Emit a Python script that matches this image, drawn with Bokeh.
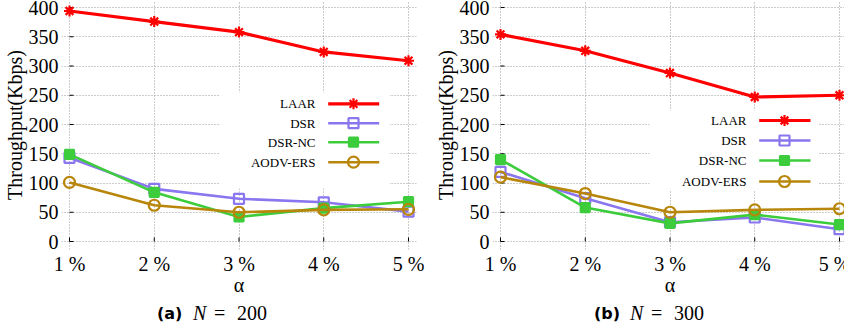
from bokeh.plotting import figure
from bokeh.layouts import row, column
from bokeh.models import Range1d, FixedTicker, Div
from bokeh.embed import file_html
from bokeh.resources import INLINE
from bokeh.core.properties import value

# ---- data -------------------------------------------------------------
alpha_pct = [1, 2, 3, 4, 5]
x_tick_labels = ["1 %", "2 %", "3 %", "4 %", "5 %"]
y_ticks = [0, 50, 100, 150, 200, 250, 300, 350, 400]

protocols = ["LAAR", "DSR", "DSR-NC", "AODV-ERS"]

# N = 200 nodes
laar_200 = [394, 376, 358, 324, 309]
dsr_200 = [143, 90, 73, 67, 51]
dsrnc_200 = [149, 84, 42, 57, 68]
aodv_200 = [101, 62, 50, 54, 55]

# N = 300 nodes
laar_300 = [354, 326, 288, 247, 250]
dsr_300 = [119, 74, 33, 41, 21]
dsrnc_300 = [140, 58, 31, 46, 29]
aodv_300 = [110, 82, 50, 54, 56]

# ---- styles -----------------------------------------------------------
STYLE = {
    "LAAR":     dict(color="#ff0000", marker="asterisk", size=11, fill=True, lw=3.2),
    "DSR":      dict(color="#8a76ee", marker="square",   size=10, fill=False, lw=2.6),
    "DSR-NC":   dict(color="#3ccc3c", marker="square",   size=9,  fill=True, lw=2.6),
    "AODV-ERS": dict(color="#b8860b", marker="circle",   size=11, fill=False, lw=2.6),
}

SERIF = "'Liberation Serif', 'Times New Roman', serif"
W, H = 339, 234          # span of the 1..5 / 0..400 grid in pixels
PAD, PAD_TOP = 8, 7      # room so edge markers are not cut
FW, FH = W + 2 * PAD, H + PAD + PAD_TOP
PANEL_W, PLOT_H, CAP_H = 422, 295, 33
TICK_PX = 4


def make_panel(series, tag, n_text, left_border, key_box, key_rows, key_text_x, key_line, key_marker_x):
    x_pad = 4 * PAD / W
    y_pad = 400 * PAD / H
    p = figure(
        frame_width=FW, frame_height=FH,
        x_range=Range1d(1 - x_pad, 5 + x_pad),
        y_range=Range1d(-y_pad, 400 + 400 * PAD_TOP / H),
        min_border_left=left_border, min_border_right=PANEL_W - left_border - FW,
        min_border_top=0, min_border_bottom=PLOT_H - FH,
        output_backend="svg", toolbar_location=None,
    )
    p.outline_line_color = None
    p.background_fill_color = "white"

    # pixel space of the frame, used for the key
    p.extra_x_ranges = {"px": Range1d(0, FW)}
    p.extra_y_ranges = {"py": Range1d(FH, 0)}

    xa, ya = p.xaxis[0], p.yaxis[0]
    xa.ticker = FixedTicker(ticks=alpha_pct)
    xa.major_label_overrides = dict(zip(alpha_pct, x_tick_labels))
    ya.ticker = FixedTicker(ticks=y_ticks)
    for ax in (xa, ya):
        ax.axis_line_color = None
        ax.major_tick_line_color = None
        ax.minor_tick_line_color = None
        ax.major_tick_in = 0
        ax.major_tick_out = 0
        ax.major_label_text_font = SERIF
        ax.major_label_text_font_size = "20px"
        ax.major_label_text_color = "black"
        ax.axis_label_text_font = SERIF
        ax.axis_label_text_font_size = "20px"
        ax.axis_label_text_font_style = "normal"
        ax.axis_label_text_color = "black"
    xa.axis_label = "α"
    ya.axis_label = "Throughput(Kbps)"
    xa.major_label_standoff = 3
    xa.axis_label_standoff = -4
    ya.major_label_standoff = 3
    ya.axis_label_standoff = 0

    for g in (p.xgrid, p.ygrid):
        g.grid_line_color = "#999999"
        g.grid_line_dash = "1 2"
        g.grid_line_width = 1

    # small inward tick marks on the x = 1 and y = 0 grid lines
    dx = 4 * TICK_PX / W
    dy = 400 * TICK_PX / H
    p.segment(x0=[1] * len(y_ticks), x1=[1 + dx] * len(y_ticks), y0=y_ticks, y1=y_ticks,
              line_color="black", line_width=1)
    p.segment(x0=alpha_pct, x1=alpha_pct, y0=[0] * len(alpha_pct), y1=[dy] * len(alpha_pct),
              line_color="black", line_width=1)

    # opaque key background
    p.quad(left=[key_box[0]], right=[key_box[1]], top=[key_box[2]], bottom=[key_box[3]],
           x_range_name="px", y_range_name="py", fill_color="white", line_color=None)

    # data series
    for name in protocols:
        st = STYLE[name]
        ys = series[name]
        p.line(alpha_pct, ys, line_color=st["color"], line_width=st["lw"])
        p.scatter(alpha_pct, ys, marker=st["marker"], size=st["size"],
                  line_color=st["color"], line_width=2.2,
                  fill_color=st["color"] if st["fill"] else None)

    # key
    for name, ky in zip(protocols, key_rows):
        st = STYLE[name]
        p.line([key_line[0], key_line[1]], [ky, ky], x_range_name="px", y_range_name="py",
               line_color=st["color"], line_width=st["lw"])
        p.scatter([key_marker_x], [ky], x_range_name="px", y_range_name="py",
                  marker=st["marker"], size=st["size"], line_color=st["color"], line_width=2.2,
                  fill_color=st["color"] if st["fill"] else None)
        p.text([key_text_x], [ky], text=[name], x_range_name="px", y_range_name="py",
               text_align="right", text_baseline="middle",
               text_font=value(SERIF), text_font_size="13px", text_color="black")

    # sub-caption under the panel
    cap_left = left_border + 102
    serif_css = "font-family:'Liberation Serif',serif;font-size:20px;line-height:20px;"
    html = (
        f'<div style="position:relative;width:{PANEL_W}px;height:{CAP_H}px;color:black;">'
        f'<span style="position:absolute;left:{cap_left}px;top:6px;line-height:20px;'
        f'font-family:\'DejaVu Sans\',sans-serif;font-weight:bold;font-size:16px;">{tag}</span>'
        f'<span style="position:absolute;left:{cap_left + 36}px;top:5px;{serif_css}font-style:italic;">N</span>'
        f'<span style="position:absolute;left:{cap_left + 57}px;top:5px;{serif_css}">=</span>'
        f'<span style="position:absolute;left:{cap_left + 80}px;top:5px;{serif_css}">{n_text}</span>'
        '</div>'
    )
    cap = Div(text=html, width=PANEL_W, height=CAP_H, margin=0)
    return column(p, cap, spacing=0)


left = make_panel(
    {"LAAR": laar_200, "DSR": dsr_200, "DSR-NC": dsrnc_200, "AODV-ERS": aodv_200},
    "(a)", "200", left_border=55,
    key_box=(213 - 55, 383 - 55, 92, 188),
    key_rows=[103.3, 122.7, 141.7, 161.7],
    key_text_x=309 - 55, key_line=(321.7 - 55, 372.7 - 55), key_marker_x=347 - 55,
)

right = make_panel(
    {"LAAR": laar_300, "DSR": dsr_300, "DSR-NC": dsrnc_300, "AODV-ERS": aodv_300},
    "(b)", "300", left_border=64,
    key_box=(643 - 486, 812 - 486, 110, 190),
    key_rows=[120, 140, 160, 181],
    key_text_x=740 - 486, key_line=(752.7 - 486, 804 - 486), key_marker_x=778 - 486,
)

layout = row(left, right, spacing=0)
open("out.html", "w").write(file_html(layout, INLINE))
